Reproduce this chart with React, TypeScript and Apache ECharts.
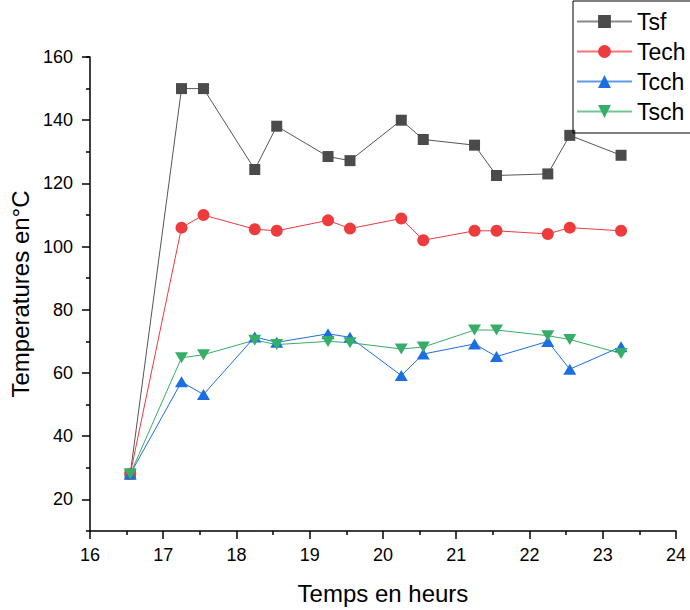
import React, { useEffect, useRef } from "react";
import * as echarts from "echarts";

const times = [16.55, 17.25, 17.55, 18.25, 18.55, 19.25, 19.55, 20.25, 20.55, 21.25, 21.55, 22.25, 22.55, 23.25];
const tsf = [28, 150, 150, 124.4, 138.1, 128.5, 127.2, 140, 133.9, 132.1, 122.5, 123, 135.2, 128.9];
const tech = [28, 106, 110, 105.5, 105, 108.3, 105.7, 108.9, 102, 105, 105, 104, 106, 105];
const tcch = [28, 57.2, 53.2, 71.4, 69.7, 72.4, 71.3, 59.2, 66, 69.2, 65.2, 70, 61.2, 68.3];
const tsch = [28, 64.8, 65.8, 70.4, 69, 70, 69.6, 67.6, 68.2, 73.6, 73.6, 71.8, 70.6, 66.2];

const seriesNames = ["Tsf", "Tech", "Tcch", "Tsch"];
const yMajorTicks = [20, 40, 60, 80, 100, 120, 140, 160];

const FONT = "Liberation Sans, Arial, sans-serif";

const pair = (ys: number[]) => times.map((t, i) => [t, ys[i]]);

const UP = "path://M5,0 L10,8.66 L0,8.66 Z";
const DOWN = "path://M0,0 L10,0 L5,8.66 Z";

export default function App() {
  const ref = useRef<HTMLDivElement>(null);
  useEffect(() => {
    if (!ref.current) return;
    const chart = echarts.init(ref.current, null, { renderer: "svg" });
    const mk = (name: string, ys: number[], color: string, lineColor: string, symbol: string, size: any) => ({
      name,
      type: "line",
      data: pair(ys),
      symbol,
      symbolSize: size,
      itemStyle: { color },
      lineStyle: { color: lineColor, width: 1 },
      emphasis: { disabled: true },
    });
    chart.setOption({
      animation: false,
      textStyle: { fontFamily: FONT },
      grid: { left: 88, right: 14, top: 57, bottom: 78, containLabel: false },
      legend: {
        orient: "vertical",
        left: 573,
        top: 1,
        padding: [9, 8, 10, 3],
        itemWidth: 55,
        itemHeight: 16,
        itemGap: 7,
        borderColor: "#000",
        borderWidth: 1,
        borderRadius: 0,
        data: seriesNames,
        lineStyle: { opacity: 0.7 },
        textStyle: { fontSize: 23, color: "#000", fontFamily: FONT, lineHeight: 23 },
      },
      xAxis: {
        type: "value",
        min: 16,
        max: 24,
        interval: 1,
        name: "Temps en heurs",
        nameLocation: "middle",
        nameGap: 50,
        nameTextStyle: { fontSize: 24, color: "#000", fontFamily: FONT },
        axisLine: { show: true, onZero: false, lineStyle: { color: "#000", width: 1.5 } },
        axisTick: { show: true, length: 8, lineStyle: { color: "#000", width: 1.5 } },
        minorTick: { show: true, splitNumber: 2, length: 4, lineStyle: { color: "#000", width: 1.5 } },
        splitLine: { show: false },
        axisLabel: { fontSize: 18, color: "#000", margin: 15, fontFamily: FONT },
      },
      yAxis: [
        {
          type: "value",
          min: 10,
          max: 160,
          interval: 10,
          name: "Temperatures en°C",
          nameLocation: "middle",
          nameGap: 55,
          nameTextStyle: { fontSize: 24, color: "#000", fontFamily: FONT },
          axisLine: { show: true, onZero: false, lineStyle: { color: "#000", width: 1.5 } },
          axisTick: { show: true, length: 8, customValues: yMajorTicks, lineStyle: { color: "#000", width: 1.5 } },
          axisLabel: { fontSize: 18, color: "#000", margin: 17, customValues: yMajorTicks, fontFamily: FONT },
          splitLine: { show: false },
        },
        {
          type: "value",
          min: 10,
          max: 160,
          interval: 20,
          position: "left",
          axisLine: { show: false },
          axisTick: { show: true, length: 4, lineStyle: { color: "#000", width: 1.5 } },
          axisLabel: { show: false },
          splitLine: { show: false },
        },
      ],
      series: [
        mk("Tsf", tsf, "#4b4b4b", "#555555", "rect", 11),
        mk("Tech", tech, "#EE3B3D", "#EE3B3D", "circle", 12),
        mk("Tcch", tcch, "#1B6FE0", "#1B6FE0", UP, [13, 11]),
        mk("Tsch", tsch, "#36AD68", "#36AD68", DOWN, [13, 11]),
      ],
    });
    return () => chart.dispose();
  }, []);
  return <div ref={ref} style={{ width: 690, height: 610, position: "absolute", left: 0, top: 0 }} />;
}
